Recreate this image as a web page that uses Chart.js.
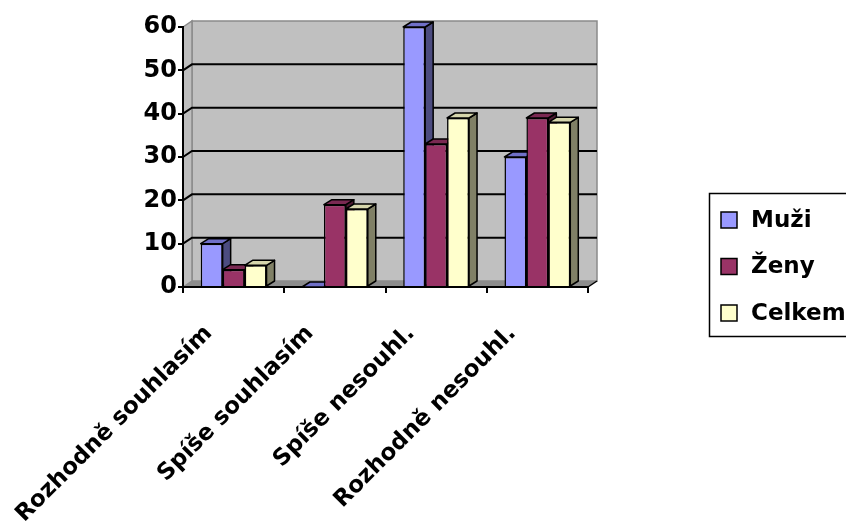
<!DOCTYPE html>
<html>
<head>
<meta charset="utf-8">
<script src="https://cdn.jsdelivr.net/npm/chart.js@4.4.1/dist/chart.umd.min.js"></script>
<style>
  html, body { margin: 0; padding: 0; background: #ffffff; }
  #wrap { width: 846px; height: 522px; }
</style>
</head>
<body>
<div id="wrap"><canvas id="c" width="846" height="522"></canvas></div>
<script>
// Survey answers by group (percent)
const categories = ['Rozhodně souhlasím', 'Spíše souhlasím', 'Spíše nesouhl.', 'Rozhodně nesouhl.'];
const seriesNames = ['Muži', 'Ženy', 'Celkem'];
const muzi = [10, 0, 60, 30];
const zeny = [4, 19, 33, 39];
const celkem = [5, 18, 39, 38];
const yTickValues = [0, 10, 20, 30, 40, 50, 60];

// Face colours: front, top, side
const palette = [
  { front: '#9999FF', top: '#7070C8', side: '#4C4C80' },
  { front: '#993366', top: '#7A2952', side: '#4D1A33' },
  { front: '#FFFFCC', top: '#D6D6AC', side: '#808066' }
];

const FONT = '"DejaVu Sans"';
const WALL_DX = 9, WALL_DY = -6;   // depth of the walls
const BAR_DX = 8, BAR_DY = -5;     // depth of each bar

function poly(ctx, pts, fill, stroke, lw) {
  ctx.beginPath();
  ctx.moveTo(pts[0][0], pts[0][1]);
  for (let i = 1; i < pts.length; i++) ctx.lineTo(pts[i][0], pts[i][1]);
  ctx.closePath();
  if (fill) { ctx.fillStyle = fill; ctx.fill(); }
  if (stroke) { ctx.strokeStyle = stroke; ctx.lineWidth = lw || 1; ctx.stroke(); }
}

// Back wall, side wall, floor and the gridlines on them
const wallsPlugin = {
  id: 'walls',
  beforeDraw(chart) {
    const ctx = chart.ctx;
    const a = chart.chartArea;
    const ys = chart.scales.y;
    const L = a.left, R = a.right;
    const T = ys.getPixelForValue(yTickValues[yTickValues.length - 1]);
    const B = ys.getPixelForValue(0);
    ctx.save();
    // back wall
    poly(ctx, [[L + WALL_DX, T + WALL_DY], [R + WALL_DX, T + WALL_DY], [R + WALL_DX, B + WALL_DY], [L + WALL_DX, B + WALL_DY]], '#C0C0C0', '#8A8A8A', 1.5);
    // side wall
    poly(ctx, [[L, T], [L + WALL_DX, T + WALL_DY], [L + WALL_DX, B + WALL_DY], [L, B]], '#BDBDBD', '#8A8A8A', 1.5);
    // floor
    poly(ctx, [[L, B], [L + WALL_DX, B + WALL_DY], [R + WALL_DX, B + WALL_DY], [R, B]], '#8C8C8C', null);
    ctx.beginPath();
    ctx.moveTo(R, B); ctx.lineTo(R + WALL_DX, B + WALL_DY);
    ctx.strokeStyle = '#000'; ctx.lineWidth = 1.5; ctx.stroke();
    // gridlines
    ctx.strokeStyle = '#000';
    ctx.lineWidth = 2;
    yTickValues.forEach(v => {
      if (v === 0 || v === yTickValues[yTickValues.length - 1]) return;
      const y = ys.getPixelForValue(v);
      ctx.beginPath();
      ctx.moveTo(L, y);
      ctx.lineTo(L + WALL_DX, y + WALL_DY);
      ctx.lineTo(R + WALL_DX, y + WALL_DY);
      ctx.stroke();
    });
    ctx.restore();
  }
};

// Bars as boxes: side and top faces, then the library's own front face
const boxesPlugin = {
  id: 'boxes',
  beforeDatasetsDraw(chart) {
    const ctx = chart.ctx;
    const metas = chart.data.datasets.map((d, i) => chart.getDatasetMeta(i));
    ctx.save();
    ctx.lineJoin = 'round';
    for (let c = 0; c < chart.data.labels.length; c++) {
      metas.forEach((meta, d) => {
        const el = meta.data[c];
        const p = el.getProps(['x', 'y', 'base', 'width'], true);
        const l = p.x - p.width / 2, r = p.x + p.width / 2;
        const col = palette[d];
        poly(ctx, [[r, p.y], [r + BAR_DX, p.y + BAR_DY], [r + BAR_DX, p.base + BAR_DY], [r, p.base]], col.side, '#000', 1.5);
        poly(ctx, [[l, p.y], [l + BAR_DX, p.y + BAR_DY], [r + BAR_DX, p.y + BAR_DY], [r, p.y]], col.top, '#000', 1.5);
        el.draw(ctx);
      });
    }
    ctx.restore();
    return false;
  }
};

// Framed legend at the right
const legendPlugin = {
  id: 'framedLegend',
  afterDraw(chart) {
    const ctx = chart.ctx;
    ctx.save();
    ctx.strokeStyle = '#000';
    ctx.lineWidth = 1.5;
    ctx.strokeRect(709.5, 193.5, 160, 143);
    const centers = [220, 266.5, 313];
    ctx.font = 'bold 23px ' + FONT;
    ctx.textBaseline = 'middle';
    ctx.fillStyle = '#000';
    chart.data.datasets.forEach((ds, i) => {
      const cy = centers[i];
      ctx.fillStyle = ds.backgroundColor;
      ctx.fillRect(721, cy - 8, 16, 16);
      ctx.strokeStyle = '#000';
      ctx.lineWidth = 1.5;
      ctx.strokeRect(721, cy - 8, 16, 16);
      ctx.fillStyle = '#000';
      ctx.fillText(ds.label, 751, cy + 1);
    });
    ctx.restore();
  }
};

const seriesValues = [muzi, zeny, celkem];

new Chart(document.getElementById('c'), {
  type: 'bar',
  data: {
    labels: categories,
    datasets: seriesNames.map((name, i) => ({
      label: name,
      data: seriesValues[i],
      backgroundColor: palette[i].front,
      borderColor: '#000',
      borderWidth: 1.5,
      categoryPercentage: 0.65,
      barPercentage: 1
    }))
  },
  options: {
    responsive: false,
    animation: false,
    devicePixelRatio: 1,
    layout: { padding: { left: 0, right: 258, top: 27, bottom: 0 } },
    plugins: { legend: { display: false }, tooltip: { enabled: false } },
    scales: {
      x: {
        grid: { display: true, drawOnChartArea: false, drawTicks: true, tickLength: 6, color: '#000', lineWidth: 2 },
        border: { display: true, color: '#000', width: 2 },
        ticks: {
          color: '#000',
          font: { family: FONT, weight: 'bold', size: 23 },
          minRotation: 45, maxRotation: 45,
          labelOffset: -25,
          padding: 27
        },
        afterFit(scale) {
          scale.height = 235;
          scale.paddingLeft = 0;
          scale.paddingRight = 0;
        }
      },
      y: {
        min: 0, max: 60,
        grid: { display: true, drawOnChartArea: false, drawTicks: true, tickLength: 5, color: '#000', lineWidth: 2 },
        border: { display: true, color: '#000', width: 2 },
        ticks: {
          stepSize: 10,
          color: '#000',
          font: { family: FONT, weight: 'bold', size: 24 },
          padding: 1,
          callback: (v) => yTickValues.includes(v) ? String(v) : ''
        },
        afterFit(scale) { scale.width = 183; }
      }
    }
  },
  plugins: [wallsPlugin, boxesPlugin, legendPlugin]
});
</script>
</body>
</html>
